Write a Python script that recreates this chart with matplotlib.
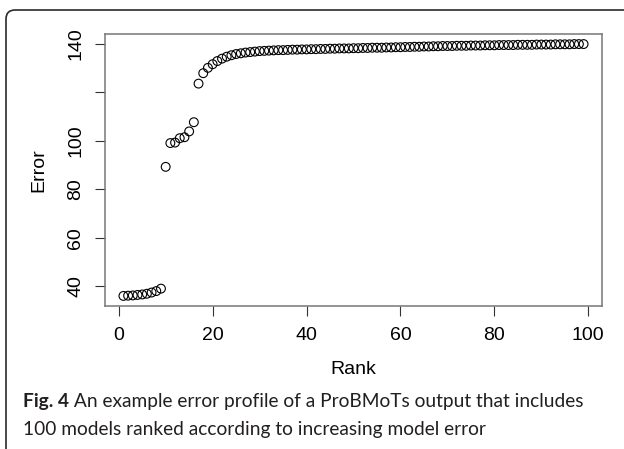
import numpy as np
import matplotlib
matplotlib.use("Agg")
import matplotlib.pyplot as plt
from matplotlib.patches import FancyBboxPatch

plt.rcParams['font.family'] = ['Liberation Sans', 'DejaVu Sans']
axis_font = "Liberation Sans"

# ranks and model errors
rank = list(range(1, 100))
error = [
    36.0, 36.1, 36.2, 36.4, 36.6, 36.9, 37.4, 38.0, 39.0,
    89.2, 99.0, 99.2, 101.0, 101.4, 103.8, 107.6,
    123.5, 127.8, 130.0, 131.5, 132.8, 133.8, 134.6, 135.2, 135.7,
    136.0, 136.3, 136.5, 136.7, 136.9,
    137.0, 137.1, 137.2, 137.3, 137.3, 137.4, 137.5, 137.5, 137.6, 137.6,
    137.7, 137.7, 137.8, 137.8, 137.9, 137.9, 138.0, 138.0, 138.0, 138.1,
    138.1, 138.2, 138.2, 138.3, 138.3, 138.3, 138.4, 138.4, 138.5, 138.5,
    138.6, 138.6, 138.7, 138.7, 138.8, 138.8, 138.9, 138.9, 139.0, 139.0,
    139.0, 139.1, 139.1, 139.1, 139.2, 139.2, 139.2, 139.3, 139.3, 139.3,
    139.4, 139.4, 139.4, 139.4, 139.5, 139.5, 139.5, 139.5, 139.6, 139.6,
    139.6, 139.6, 139.7, 139.7, 139.7, 139.7, 139.8, 139.8, 139.8,
]
xticks = [0, 20, 40, 60, 80, 100]
yticks = [40, 60, 80, 100, 120, 140]
ytick_labels = ["40", "60", "80", "100", "", "140"]

caption_bold = "Fig. 4"
caption_line1 = " An example error profile of a ProBMoTs output that includes"
caption_line2 = "100 models ranked according to increasing model error"

W, H = 624, 449
fig = plt.figure(figsize=(W / 100, H / 100), dpi=100)

# main plot first, fonts set explicitly
ax = fig.add_axes([105 / W, 1 - 306 / H, (602 - 105) / W, (306 - 34) / H], zorder=1)
ax.scatter(rank, error, s=40, facecolors="none", edgecolors="black", linewidths=0.8)
ax.set_xlim(1 - 0.04 * 98, 99 + 0.04 * 98)
lo, hi = min(error), max(error)
ax.set_ylim(lo - 0.04 * (hi - lo), hi + 0.04 * (hi - lo))

ax.set_xticks(xticks)
ax.set_xticklabels([str(v) for v in xticks], fontfamily=axis_font, fontsize=14)
ax.set_yticks(yticks)
ax.set_yticklabels(ytick_labels, rotation=90, va="center", fontfamily=axis_font, fontsize=14)
for s in ax.spines.values():
    s.set_color("#777777")
    s.set_linewidth(1.1)
ax.tick_params(axis="both", length=7, width=0.8, color="#333333", pad=8)
ax.set_xlabel("Rank", fontsize=14, fontfamily=axis_font, labelpad=12)
ax.set_ylabel("Error", fontsize=14, fontfamily=axis_font, labelpad=14)

# background layer in pixel coords for the frame and caption
bg = fig.add_axes([0, 0, 1, 1], zorder=0)
bg.set_xlim(0, W)
bg.set_ylim(H, 0)
bg.axis("off")
frame = FancyBboxPatch((6, 10), 800, 600, boxstyle="round,pad=0,rounding_size=9",
                       fc="none", ec="#2a2a2a", lw=1.2)
bg.add_patch(frame)

cap_font = "Lato"
cap_left = 23
cap_right = 587   # where line 1 ends in the reference
renderer = fig.canvas.get_renderer()

def put_caption(size):
    t1 = bg.text(cap_left, 402, caption_bold, fontsize=size, fontweight="bold",
                 fontfamily=cap_font, color="#231f20", va="center", ha="left")
    bb = t1.get_window_extent(renderer)
    t2 = bg.text(cap_left + bb.width, 402, caption_line1, fontsize=size, fontfamily=cap_font,
                 color="#231f20", va="center", ha="left")
    t3 = bg.text(cap_left, 430, caption_line2, fontsize=size, fontfamily=cap_font,
                 color="#231f20", va="center", ha="left")
    return [t1, t2, t3], bb.width + t2.get_window_extent(renderer).width

cap_size = 14
texts, width = put_caption(cap_size)
for t in texts:
    t.remove()
cap_size = cap_size * (cap_right - cap_left) / width
put_caption(cap_size)

fig.savefig("out.png", dpi=100)
